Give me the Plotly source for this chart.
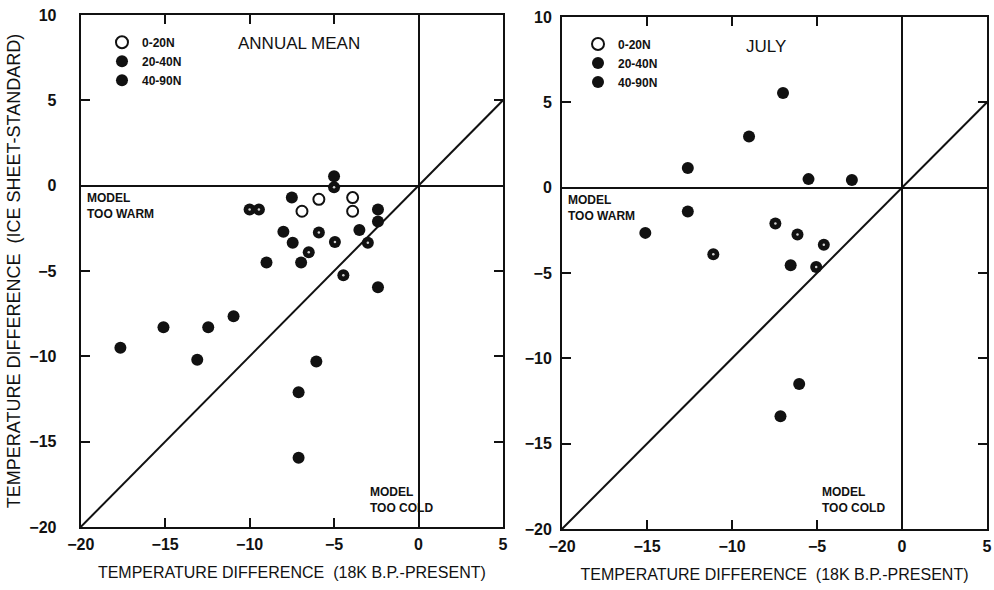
import plotly.graph_objects as go

# ---- Annual mean panel ----
ann_0_20_x = [-5.9, -6.9, -3.9, -3.9]
ann_0_20_y = [-0.8, -1.5, -0.7, -1.5]

ann_20_40_x = [-10.0, -9.45, -5.9, -6.5, -4.95, -4.45, -3.0, -5.0]
ann_20_40_y = [-1.4, -1.4, -2.75, -3.9, -3.3, -5.25, -3.35, -0.1]

ann_40_90_x = [-5.0, -7.5, -2.4, -2.4, -8.0, -3.5, -7.45, -9.0, -6.95, -2.4,
               -17.65, -15.1, -12.45, -10.95, -13.1, -6.05, -7.1, -7.1]
ann_40_90_y = [0.55, -0.7, -1.4, -2.1, -2.7, -2.6, -3.35, -4.5, -4.5, -5.95,
               -9.5, -8.3, -8.3, -7.65, -10.2, -10.3, -12.1, -15.95]

# ---- July panel ----
jul_20_40_x = [-11.1, -7.45, -4.6, -5.05, -6.15]
jul_20_40_y = [-3.9, -2.1, -3.35, -4.65, -2.75]

jul_40_90_x = [-7.0, -9.0, -12.6, -5.5, -2.95, -12.6, -15.1, -6.55, -6.05, -7.15]
jul_40_90_y = [5.55, 3.0, 1.15, 0.5, 0.45, -1.4, -2.65, -4.55, -11.5, -13.4]

legend_names = ["0-20N", "20-40N", "40-90N"]
x_range = [-20, 5]
y_range = [-20, 10]
x_ticks = [-20, -15, -10, -5, 0, 5]
y_ticks = [-20, -15, -10, -5, 0, 5, 10]

INK = "#111111"
SANS = "Liberation Sans, Arial, sans-serif"
MS = 12

fig = go.Figure()


def add_panel(xa, ya, legend_id, open_xy, dot_xy, full_xy):
    # 1:1 reference line across the whole axis range
    fig.add_trace(go.Scatter(x=x_range, y=x_range, mode="lines",
                             line=dict(color=INK, width=2), showlegend=False,
                             hoverinfo="skip", xaxis=xa, yaxis=ya))
    ox, oy = open_xy if open_xy is not None else ([None], [None])
    fig.add_trace(go.Scatter(x=ox, y=oy, mode="markers",
                             name=legend_names[0], legend=legend_id,
                             marker=dict(size=MS - 1, color="white",
                                         line=dict(color=INK, width=2)),
                             xaxis=xa, yaxis=ya))
    fig.add_trace(go.Scatter(x=dot_xy[0], y=dot_xy[1], mode="markers",
                             name=legend_names[1], legend=legend_id,
                             marker=dict(size=MS, color=INK,
                                         line=dict(color=INK, width=0)),
                             xaxis=xa, yaxis=ya))
    # small highlight at the centre of the 20-40N symbols
    fig.add_trace(go.Scatter(x=dot_xy[0], y=dot_xy[1], mode="markers",
                             showlegend=False, hoverinfo="skip",
                             marker=dict(size=2.5, color="#d0d0d0",
                                         line=dict(width=0)),
                             xaxis=xa, yaxis=ya))
    fig.add_trace(go.Scatter(x=full_xy[0], y=full_xy[1], mode="markers",
                             name=legend_names[2], legend=legend_id,
                             marker=dict(size=MS, color=INK,
                                         line=dict(color=INK, width=0)),
                             xaxis=xa, yaxis=ya))


add_panel("x", "y", "legend", (ann_0_20_x, ann_0_20_y),
          (ann_20_40_x, ann_20_40_y), (ann_40_90_x, ann_40_90_y))
add_panel("x2", "y2", "legend2", None,
          (jul_20_40_x, jul_20_40_y), (jul_40_90_x, jul_40_90_y))

tick_font = dict(family=SANS, size=16, color=INK, weight="bold")
xtitle_font = dict(family=SANS, size=16, color=INK)
ytitle_font = dict(family=SANS, size=18, color=INK)
xtitle = "TEMPERATURE DIFFERENCE  (18K B.P.-PRESENT)"

common_x = dict(range=x_range, tickvals=x_ticks, ticks="inside", ticklen=9,
                tickwidth=2, tickcolor=INK, showline=True, linewidth=2,
                linecolor=INK, mirror="ticks", showgrid=False, zeroline=True,
                zerolinecolor=INK, zerolinewidth=2, tickfont=tick_font,
                ticklabelstandoff=2, automargin=False, fixedrange=True)
common_y = dict(range=y_range, tickvals=y_ticks, ticks="inside", ticklen=9,
                tickwidth=2, tickcolor=INK, showline=True, linewidth=2,
                linecolor=INK, mirror="ticks", showgrid=False, zeroline=True,
                zerolinecolor=INK, zerolinewidth=2, tickfont=tick_font,
                automargin=False, fixedrange=True)

legend_style = dict(font=dict(family=SANS, size=12, color=INK, weight="bold"),
                    bgcolor="rgba(0,0,0,0)", itemsizing="constant",
                    tracegroupgap=0, itemwidth=30, yanchor="top", xanchor="left")

fig.update_layout(
    width=994, height=590,
    margin=dict(l=0, r=0, t=0, b=0),
    paper_bgcolor="white", plot_bgcolor="white",
    xaxis=dict(common_x, domain=[0.0812, 0.506], anchor="y",
               title=dict(text=xtitle, font=xtitle_font, standoff=15)),
    yaxis=dict(common_y, domain=[0.1068, 0.9746], anchor="x",
               ticklabelstandoff=19,
               title=dict(text="TEMPERATURE DIFFERENCE  (ICE SHEET-STANDARD)",
                          font=ytitle_font, standoff=4)),
    xaxis2=dict(common_x, domain=[0.5654, 0.993], anchor="y2",
                title=dict(text=xtitle, font=xtitle_font, standoff=15)),
    yaxis2=dict(common_y, domain=[0.1034, 0.9712], anchor="x2",
                ticklabelstandoff=5),
    legend=dict(legend_style, x=0.1026, y=0.953),
    legend2=dict(legend_style, x=0.5815, y=0.950),
    showlegend=True,
)

ann_font = dict(family=SANS, size=12, color=INK, weight="bold")
notes = [
    ("x", "y", -19.75, -0.2, "MODEL<br>TOO WARM"),
    ("x", "y", -2.97, -17.4, "MODEL<br>TOO COLD"),
    ("x2", "y2", -19.75, -0.2, "MODEL<br>TOO WARM"),
    ("x2", "y2", -4.85, -17.3, "MODEL<br>TOO COLD"),
]
for xr, yr, xv, yv, txt in notes:
    fig.add_annotation(x=xv, y=yv, xref=xr, yref=yr, text=txt, showarrow=False,
                       xanchor="left", yanchor="top", align="left",
                       font=ann_font)

head_font = dict(family=SANS, size=17, color=INK)
fig.add_annotation(x=-7.1, y=8.3, xref="x", yref="y", text="ANNUAL MEAN",
                   showarrow=False, font=head_font)
fig.add_annotation(x=-8.0, y=8.3, xref="x2", yref="y2", text="JULY",
                   showarrow=False, font=head_font)

fig.write_html("out.html")
